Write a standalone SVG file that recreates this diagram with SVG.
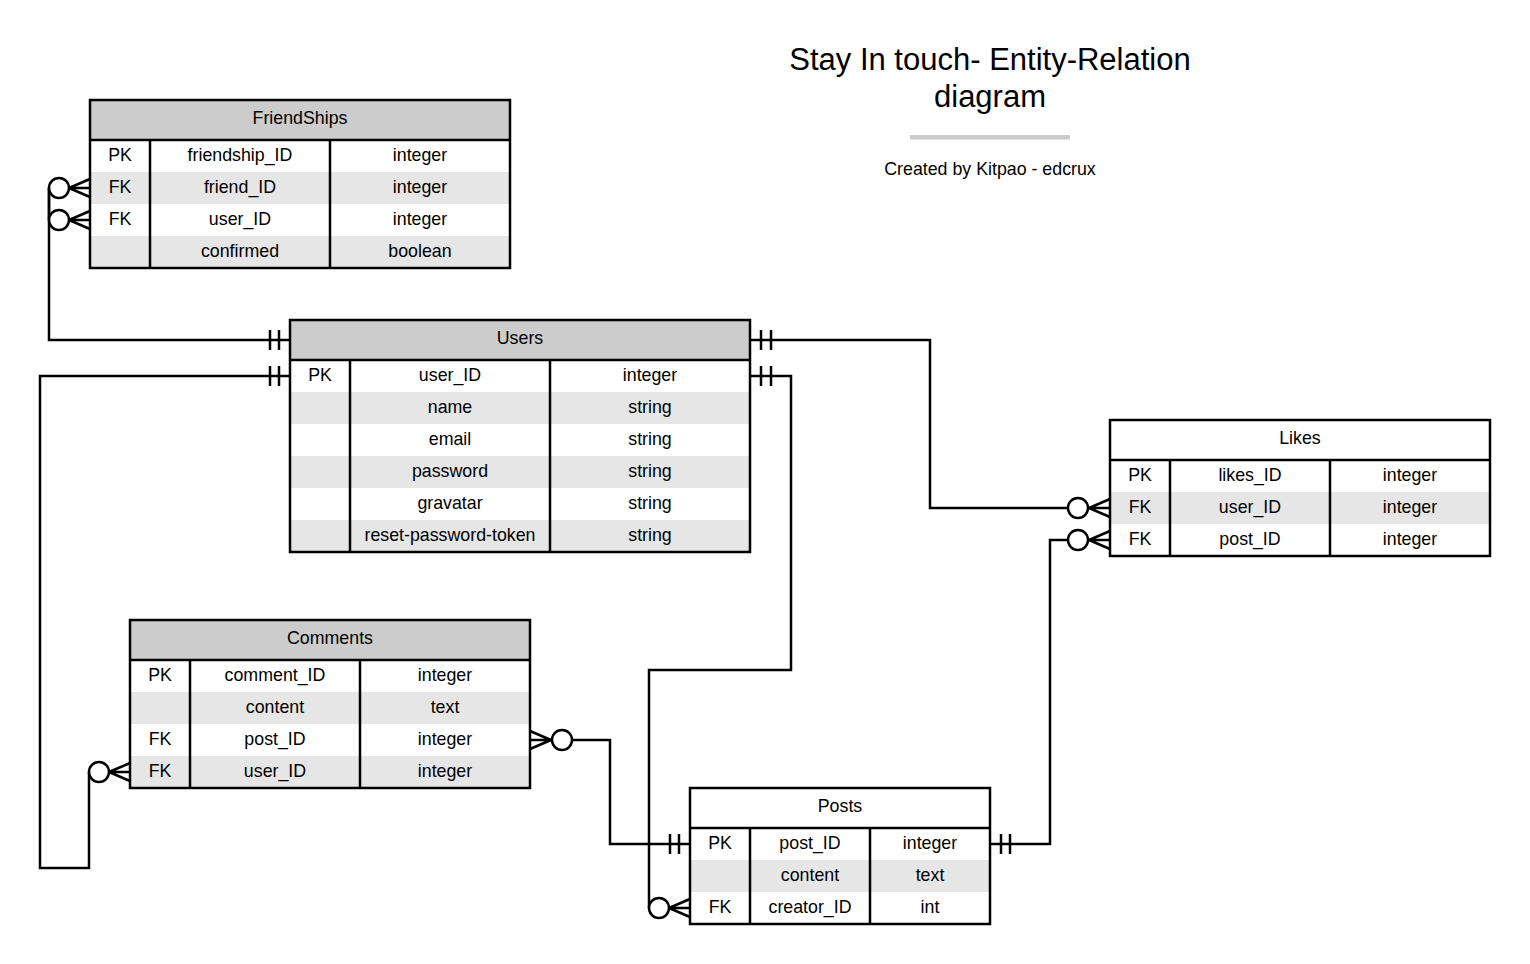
<svg xmlns="http://www.w3.org/2000/svg" width="1530" height="964" viewBox="0 0 1530 964">
<style>
text{font-family:"Liberation Sans",Arial,sans-serif;fill:#000;text-anchor:middle}
.t{font-size:17.8px}
.hd{fill:#cccccc}
.wh{fill:#ffffff}
.st{fill:#e6e6e6}
.bd{fill:none;stroke:#000;stroke-width:2.5}
.ln{fill:none;stroke:#000;stroke-width:2.5}
.ci{fill:#fff;stroke:#000;stroke-width:2.5}
</style>
<rect width="1530" height="964" fill="#fff"/>
<g id="title">
<text x="990" y="70" style="font-size:31px">Stay In touch- Entity-Relation</text>
<text x="990" y="107" style="font-size:31px">diagram</text>
<rect x="910" y="135" width="160" height="4.5" fill="#cccccc"/>
<text x="990" y="175" style="font-size:17.8px">Created by Kitpao - edcrux</text>
</g>
<g id="connectors">
<!-- Users -> FriendShips -->
<path class="ln" d="M290,340 H49 V188"/>
<path class="ln" d="M49,220 V188"/>
<path class="ln" d="M270,330 V350 M279,330 V350"/>
<circle class="ci" cx="59" cy="188" r="10"/>
<path class="ln" d="M69,188 H90 M69,188 L90,179 M69,188 L90,197"/>
<circle class="ci" cx="59" cy="220" r="10"/>
<path class="ln" d="M69,220 H90 M69,220 L90,211 M69,220 L90,229"/>
<!-- Users -> Comments -->
<path class="ln" d="M290,376 H40 V868 H89 V772"/>
<path class="ln" d="M270,366 V386 M279,366 V386"/>
<circle class="ci" cx="99" cy="772" r="10"/>
<path class="ln" d="M109,772 H130 M109,772 L130,763 M109,772 L130,781"/>
<!-- Users -> Likes -->
<path class="ln" d="M750,340 H930 V508 H1068"/>
<path class="ln" d="M761,330 V350 M771,330 V350"/>
<circle class="ci" cx="1078" cy="508" r="10"/>
<path class="ln" d="M1089,508 H1110 M1089,508 L1110,499 M1089,508 L1110,517"/>
<!-- Users -> Posts -->
<path class="ln" d="M750,376 H791 V670 H649 V908"/>
<path class="ln" d="M761,366 V386 M771,366 V386"/>
<circle class="ci" cx="659" cy="908" r="10"/>
<path class="ln" d="M669,908 H690 M669,908 L690,899 M669,908 L690,917"/>
<!-- Comments -> Posts -->
<path class="ln" d="M572,740 H610 V844 H690"/>
<path class="ln" d="M551,740 H530 M551,740 L530,731 M551,740 L530,749"/>
<circle class="ci" cx="562" cy="740" r="10"/>
<path class="ln" d="M670,834 V854 M679,834 V854"/>
<!-- Posts -> Likes -->
<path class="ln" d="M990,844 H1050 V540 H1068"/>
<path class="ln" d="M1001,834 V854 M1010,834 V854"/>
<circle class="ci" cx="1078" cy="540" r="10"/>
<path class="ln" d="M1089,540 H1110 M1089,540 L1110,531 M1089,540 L1110,549"/>
</g>
<g id="friendships">
<rect class="hd" x="90" y="100" width="420" height="40"/>
<rect class="wh" x="90" y="140" width="420" height="32"/>
<rect class="st" x="90" y="172" width="420" height="32"/>
<rect class="wh" x="90" y="204" width="420" height="32"/>
<rect class="st" x="90" y="236" width="420" height="32"/>
<rect class="bd" x="90" y="100" width="420" height="168"/>
<path class="bd" d="M90,140 H510 M150,140 V268 M330,140 V268"/>
<text class="t" x="300" y="123.5">FriendShips</text>
<text class="t" x="120" y="160.5">PK</text><text class="t" x="240" y="160.5">friendship_ID</text><text class="t" x="420" y="160.5">integer</text>
<text class="t" x="120" y="192.5">FK</text><text class="t" x="240" y="192.5">friend_ID</text><text class="t" x="420" y="192.5">integer</text>
<text class="t" x="120" y="224.5">FK</text><text class="t" x="240" y="224.5">user_ID</text><text class="t" x="420" y="224.5">integer</text>
<text class="t" x="240" y="256.5">confirmed</text><text class="t" x="420" y="256.5">boolean</text>
</g>
<g id="users">
<rect class="hd" x="290" y="320" width="460" height="40"/>
<rect class="wh" x="290" y="360" width="460" height="32"/>
<rect class="st" x="290" y="392" width="460" height="32"/>
<rect class="wh" x="290" y="424" width="460" height="32"/>
<rect class="st" x="290" y="456" width="460" height="32"/>
<rect class="wh" x="290" y="488" width="460" height="32"/>
<rect class="st" x="290" y="520" width="460" height="32"/>
<rect class="bd" x="290" y="320" width="460" height="232"/>
<path class="bd" d="M290,360 H750 M350,360 V552 M550,360 V552"/>
<text class="t" x="520" y="343.5">Users</text>
<text class="t" x="320" y="380.5">PK</text><text class="t" x="450" y="380.5">user_ID</text><text class="t" x="650" y="380.5">integer</text>
<text class="t" x="450" y="412.5">name</text><text class="t" x="650" y="412.5">string</text>
<text class="t" x="450" y="444.5">email</text><text class="t" x="650" y="444.5">string</text>
<text class="t" x="450" y="476.5">password</text><text class="t" x="650" y="476.5">string</text>
<text class="t" x="450" y="508.5">gravatar</text><text class="t" x="650" y="508.5">string</text>
<text class="t" x="450" y="540.5">reset-password-token</text><text class="t" x="650" y="540.5">string</text>
</g>
<g id="likes">
<rect class="wh" x="1110" y="420" width="380" height="40"/>
<rect class="wh" x="1110" y="460" width="380" height="32"/>
<rect class="st" x="1110" y="492" width="380" height="32"/>
<rect class="wh" x="1110" y="524" width="380" height="32"/>
<rect class="bd" x="1110" y="420" width="380" height="136"/>
<path class="bd" d="M1110,460 H1490 M1170,460 V556 M1330,460 V556"/>
<text class="t" x="1300" y="443.5">Likes</text>
<text class="t" x="1140" y="480.5">PK</text><text class="t" x="1250" y="480.5">likes_ID</text><text class="t" x="1410" y="480.5">integer</text>
<text class="t" x="1140" y="512.5">FK</text><text class="t" x="1250" y="512.5">user_ID</text><text class="t" x="1410" y="512.5">integer</text>
<text class="t" x="1140" y="544.5">FK</text><text class="t" x="1250" y="544.5">post_ID</text><text class="t" x="1410" y="544.5">integer</text>
</g>
<g id="comments">
<rect class="hd" x="130" y="620" width="400" height="40"/>
<rect class="wh" x="130" y="660" width="400" height="32"/>
<rect class="st" x="130" y="692" width="400" height="32"/>
<rect class="wh" x="130" y="724" width="400" height="32"/>
<rect class="st" x="130" y="756" width="400" height="32"/>
<rect class="bd" x="130" y="620" width="400" height="168"/>
<path class="bd" d="M130,660 H530 M190,660 V788 M360,660 V788"/>
<text class="t" x="330" y="643.5">Comments</text>
<text class="t" x="160" y="680.5">PK</text><text class="t" x="275" y="680.5">comment_ID</text><text class="t" x="445" y="680.5">integer</text>
<text class="t" x="275" y="712.5">content</text><text class="t" x="445" y="712.5">text</text>
<text class="t" x="160" y="744.5">FK</text><text class="t" x="275" y="744.5">post_ID</text><text class="t" x="445" y="744.5">integer</text>
<text class="t" x="160" y="776.5">FK</text><text class="t" x="275" y="776.5">user_ID</text><text class="t" x="445" y="776.5">integer</text>
</g>
<g id="posts">
<rect class="wh" x="690" y="788" width="300" height="40"/>
<rect class="wh" x="690" y="828" width="300" height="32"/>
<rect class="st" x="690" y="860" width="300" height="32"/>
<rect class="wh" x="690" y="892" width="300" height="32"/>
<rect class="bd" x="690" y="788" width="300" height="136"/>
<path class="bd" d="M690,828 H990 M750,828 V924 M870,828 V924"/>
<text class="t" x="840" y="811.5">Posts</text>
<text class="t" x="720" y="848.5">PK</text><text class="t" x="810" y="848.5">post_ID</text><text class="t" x="930" y="848.5">integer</text>
<text class="t" x="810" y="880.5">content</text><text class="t" x="930" y="880.5">text</text>
<text class="t" x="720" y="912.5">FK</text><text class="t" x="810" y="912.5">creator_ID</text><text class="t" x="930" y="912.5">int</text>
</g>
</svg>
